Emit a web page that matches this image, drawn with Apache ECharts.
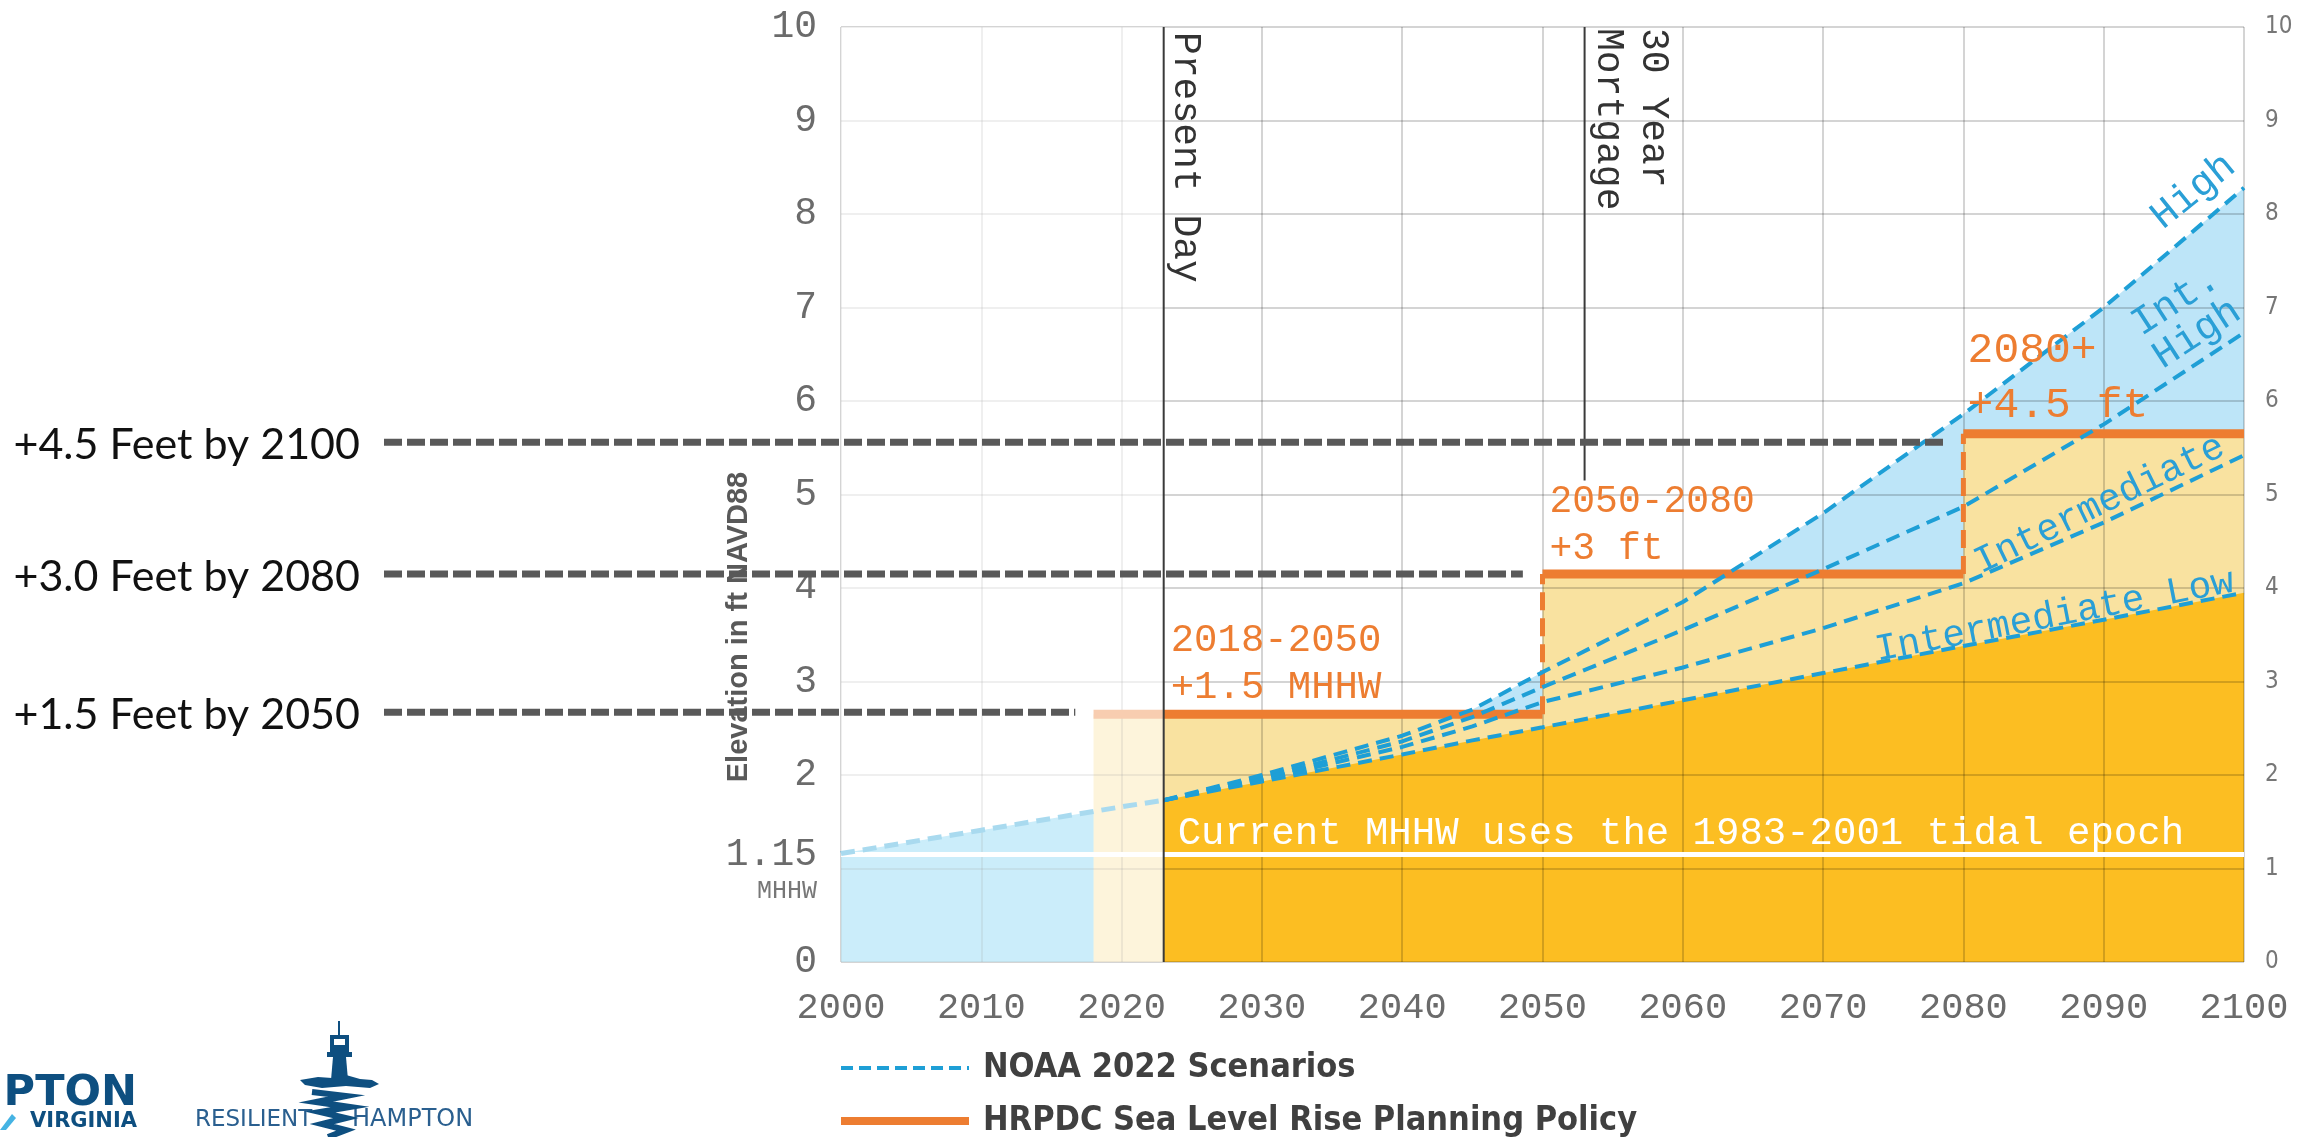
<!DOCTYPE html>
<html><head><meta charset="utf-8">
<script src="https://cdn.jsdelivr.net/npm/echarts@6/dist/echarts.min.js"></script>
<style>html,body{margin:0;padding:0;background:#fff;}#c{width:2313px;height:1137px;}</style>
</head><body><div id="c"></div>
<script>
// ---------- data ----------
const yLeftTicks = [0, 1.15, 2, 3, 4, 5, 6, 7, 8, 9, 10];
const mhhw = 1.15;
const pastYears = [2000, 2010, 2020, 2023];
const pastLevel = [1.16, 1.41, 1.66, 1.73];
const scenarioYears = [2023, 2030, 2040, 2045, 2050, 2060, 2070, 2080, 2090, 2100];
const intLow       = [1.73, 1.93, 2.22, 2.37, 2.51, 2.80, 3.09, 3.38, 3.66, 3.95];
const intermediate = [1.73, 1.95, 2.30, 2.52, 2.78, 3.15, 3.57, 4.05, 4.70, 5.42];
const intHigh      = [1.73, 1.97, 2.36, 2.62, 2.94, 3.55, 4.20, 4.87, 5.75, 6.73];
const high         = [1.73, 2.00, 2.42, 2.70, 3.10, 3.85, 4.80, 5.86, 7.00, 8.28];
const scenarioNames = ['Intermediate Low', 'Intermediate', 'Int.\nHigh', 'High'];
const policyStart = [2018, 2050, 2080];
const policyEnd   = [2050, 2080, 2100];
const policyLevel = [2.65, 4.15, 5.65];
const policyLabels = ['2018-2050\n+1.5 MHHW', '2050-2080\n+3 ft', '2080+\n+4.5 ft'];
const presentYear = 2023;
const mortgageYear = 2053;
const mortgageLineEnd = 5.15;
const targetLabels = ['+4.5 Feet by 2100', '+3.0 Feet by 2080', '+1.5 Feet by 2050'];
const targetLevels = [5.56, 4.15, 2.67];
const targetUntil  = [2078.6, 2048.6, 2016.7];

// ---------- styles ----------
const BLUE = '#1E9FD6', ORANGE = '#ED7D31';
const MONO = '"Liberation Mono", "DejaVu Sans Mono", monospace';
const NARROW = '"Liberation Sans Narrow", "DejaVu Sans Condensed", "Liberation Sans", sans-serif';
const zip = (xs, ys) => xs.map((x, i) => [x, ys[i]]);
const gridLine = {show: true, lineStyle: {color: 'rgba(0,0,0,0.17)', width: 2}};

const chart = echarts.init(document.getElementById('c'), null, {renderer: 'canvas', width: 2313, height: 1137});

const policyStepData = [];
policyStart.forEach((s, i) => { policyStepData.push([s, policyLevel[i]]); policyStepData.push([policyEnd[i], policyLevel[i]]); });

const areaSeries = (data, color) => ({type: 'line', data, symbol: 'none', silent: true, z: 1,
  lineStyle: {width: 0}, areaStyle: {color, opacity: 1}});
const dashSeries = (data, width) => ({type: 'line', data, symbol: 'none', silent: true, z: 3,
  lineStyle: {color: BLUE, width: width, type: [14, 8]}});

const series = [
  areaSeries(zip(pastYears, pastLevel), '#76D0F2'),
  areaSeries(zip(scenarioYears, high), '#BDE5F8'),
  areaSeries(policyStepData, '#F9E2A0'),
  areaSeries(zip(scenarioYears, intLow), '#FCBE22'),
  {type: 'line', data: [[2000, mhhw], [2100, mhhw]], symbol: 'none', silent: true, z: 3,
    lineStyle: {color: '#ffffff', width: 5}},
  ...policyStart.map((s, i) => ({type: 'line', data: [[s, policyLevel[i]], [policyEnd[i], policyLevel[i]]],
    symbol: 'none', silent: true, z: 3, lineStyle: {color: ORANGE, width: 9}})),
  ...policyStart.slice(1).map((s, k) => ({type: 'line', data: [[s, policyLevel[k]], [s, policyLevel[k + 1]]],
    symbol: 'none', silent: true, z: 3, lineStyle: {color: ORANGE, width: 5, type: [18, 8]}})),
  dashSeries(zip(pastYears, pastLevel), 5),
  dashSeries(zip(scenarioYears, intLow), 4),
  dashSeries(zip(scenarioYears, intermediate), 4),
  dashSeries(zip(scenarioYears, intHigh), 4),
  dashSeries(zip(scenarioYears, high), 4),
  {type: 'line', data: [[presentYear, 0], [presentYear, 10]], symbol: 'none', silent: true, z: 5,
    lineStyle: {color: '#3a3a3a', width: 2}},
  {type: 'line', data: [[mortgageYear, mortgageLineEnd], [mortgageYear, 10]], symbol: 'none', silent: true, z: 5,
    lineStyle: {color: '#3a3a3a', width: 2}}
];

chart.setOption({
  animation: false,
  grid: {left: 841, right: 69, top: 27, bottom: 175},
  xAxis: {type: 'value', min: 2000, max: 2100, interval: 10, z: 2,
    axisLine: {show: false}, axisTick: {show: false}, splitLine: gridLine,
    axisLabel: {margin: 28, fontFamily: MONO, fontSize: 37, color: '#6b6b6b', formatter: v => String(v)}},
  yAxis: [
    {type: 'value', min: 0, max: 10, interval: 1, position: 'left', z: 2,
      axisLine: {show: false}, axisTick: {show: false}, splitLine: gridLine,
      axisLabel: {customValues: yLeftTicks, margin: 24, color: '#6b6b6b',
        formatter: function (v) {
          if (Math.abs(v - mhhw) < 1e-6) return '{s| }\n{v|' + v.toFixed(2) + '}\n{m|MHHW}';
          return '{v|' + v + '}';
        },
        rich: {
          v: {fontFamily: MONO, fontSize: 38, lineHeight: 40, color: '#6b6b6b', align: 'right'},
          m: {fontFamily: MONO, fontSize: 25, lineHeight: 34, color: '#777', align: 'right'},
          s: {fontFamily: MONO, fontSize: 25, lineHeight: 34}
        }}},
    {type: 'value', min: 0, max: 10, interval: 1, position: 'right', z: 2,
      axisLine: {show: false}, axisTick: {show: false}, splitLine: {show: false},
      axisLabel: {margin: 21, fontFamily: NARROW, fontSize: 24, color: '#777'}}
  ],
  series: series
});

// ---------- annotations (positioned through the chart's own scales) ----------
const px = (x, y) => chart.convertToPixel({gridIndex: 0}, [x, y]);
const g = [];
const txt = (x, y, text, font, fill, align, valign, rot, extra) => {
  const el = {type: 'text', x, y, rotation: rot || 0, silent: true, z: 10,
    style: Object.assign({text, font, fill, align: align || 'left', verticalAlign: valign || 'middle'}, extra || {})};
  g.push(el);
};

// white veil over the past
const a = px(2000, 10), b = px(presentYear, 0);
g.push({type: 'rect', silent: true, z: 4, shape: {x: a[0], y: a[1], width: b[0] - a[0], height: b[1] - a[1]},
  style: {fill: 'rgba(255,255,255,0.62)'}});

// target dashed guide lines and captions
targetLabels.forEach((t, i) => {
  const p = px(targetUntil[i], targetLevels[i]);
  g.push({type: 'line', silent: true, z: 10, shape: {x1: 384, y1: p[1], x2: p[0], y2: p[1]},
    style: {stroke: '#595959', lineWidth: 7, lineDash: [18, 5]}});
  txt(360, p[1] + 3, t, '43px Lato, "Liberation Sans", sans-serif', '#111', 'right', 'middle');
});

// axis title
txt(739, 627, 'Elevation in ft NAVD88', 'bold 29px "Liberation Sans", Arial, sans-serif', '#595959', 'center', 'middle', Math.PI / 2);

// present day / mortgage labels
const pd = px(presentYear, 10);
txt(pd[0] + 2, pd[1] + 5, 'Present Day', '38px ' + MONO, '#333', 'left', 'bottom', -Math.PI / 2);
const mg = px(mortgageYear, 10);
txt(mg[0] + 1, mg[1] + 1, '30 Year\nMortgage', '38px ' + MONO, '#333', 'left', 'bottom', -Math.PI / 2, {lineHeight: 45});

// policy labels
const polPos = [[2023.5, 3.18, 39, 47], [2050.5, 4.67, 38, 47], [2080.3, 6.25, 43, 55]];
policyLabels.forEach((t, i) => {
  const p = px(polPos[i][0], polPos[i][1]);
  txt(p[0], p[1], t, polPos[i][2] + 'px ' + MONO, ORANGE, 'left', 'middle', 0, {lineHeight: polPos[i][3]});
});

// scenario labels
const scnPos = [[2086.5, 3.70, 11, 38], [2089.7, 4.89, 26, 38], [2095.9, 6.89, 33, 40], [2096.4, 8.24, 39, 40]];
scenarioNames.forEach((t, i) => {
  const p = px(scnPos[i][0], scnPos[i][1]);
  txt(p[0], p[1], t, scnPos[i][3] + 'px ' + MONO, '#2A9FD6', 'center', 'middle', scnPos[i][2] * Math.PI / 180, {lineHeight: 39});
});

// MHHW note
const mp = px(2024.0, 1.37);
txt(mp[0], mp[1], 'Current MHHW uses the 1983-2001 tidal epoch', '39px ' + MONO, '#ffffff', 'left', 'middle');

// legend
g.push({type: 'line', silent: true, z: 10, shape: {x1: 841, y1: 1068, x2: 969, y2: 1068},
  style: {stroke: BLUE, lineWidth: 4, lineDash: [12, 6]}});
txt(983, 1068, 'NOAA 2022 Scenarios', 'bold 34px ' + NARROW, '#404040', 'left', 'middle');
g.push({type: 'line', silent: true, z: 10, shape: {x1: 841, y1: 1121, x2: 969, y2: 1121},
  style: {stroke: ORANGE, lineWidth: 8}});
txt(983, 1121, 'HRPDC Sea Level Rise Planning Policy', 'bold 34px ' + NARROW, '#404040', 'left', 'middle');

// logos
const NAVY = '#0E4F80';
txt(137, 1094, 'HAMPTON', 'bold 43px "DejaVu Sans", sans-serif', NAVY, 'right', 'middle');
txt(137, 1122, 'VIRGINIA', 'bold 21px "DejaVu Sans", sans-serif', NAVY, 'right', 'middle');
g.push({type: 'polygon', silent: true, z: 10, shape: {points: [[0, 1130], [12, 1114], [16, 1118], [6, 1130]]}, style: {fill: '#45B3E3'}});
txt(195, 1120, 'RESILIENT', '23px "DejaVu Sans", sans-serif', '#2A5F8F', 'left', 'middle');
txt(352, 1120, 'HAMPTON', '24px "DejaVu Sans", sans-serif', '#2A5F8F', 'left', 'middle');
g.push({type: 'line', silent: true, z: 10, shape: {x1: 339, y1: 1021, x2: 339, y2: 1036}, style: {stroke: NAVY, lineWidth: 2}});
g.push({type: 'rect', silent: true, z: 10, shape: {x: 330, y: 1035, width: 19, height: 17}, style: {fill: NAVY}});
g.push({type: 'rect', silent: true, z: 10, shape: {x: 334, y: 1039, width: 11, height: 6}, style: {fill: '#ffffff'}});
g.push({type: 'rect', silent: true, z: 10, shape: {x: 327, y: 1052, width: 25, height: 5}, style: {fill: NAVY}});
g.push({type: 'polygon', silent: true, z: 10, shape: {points: [[333, 1057], [346, 1057], [348, 1080], [331, 1080]]}, style: {fill: NAVY}});
g.push({type: 'polygon', silent: true, z: 10, shape: {points: [[300, 1080], [318, 1077], [332, 1078], [346, 1075], [360, 1079], [372, 1080], [379, 1084], [370, 1088], [346, 1086], [322, 1088], [305, 1085]]}, style: {fill: NAVY}});
g.push({type: 'polyline', silent: true, z: 10, shape: {points: [[312, 1092], [346, 1096], [316, 1102], [350, 1107], [320, 1112], [346, 1118], [322, 1124], [346, 1130], [328, 1137]]},
  style: {stroke: NAVY, lineWidth: 6, fill: null}});

chart.setOption({graphic: g});
</script>
</body></html>
